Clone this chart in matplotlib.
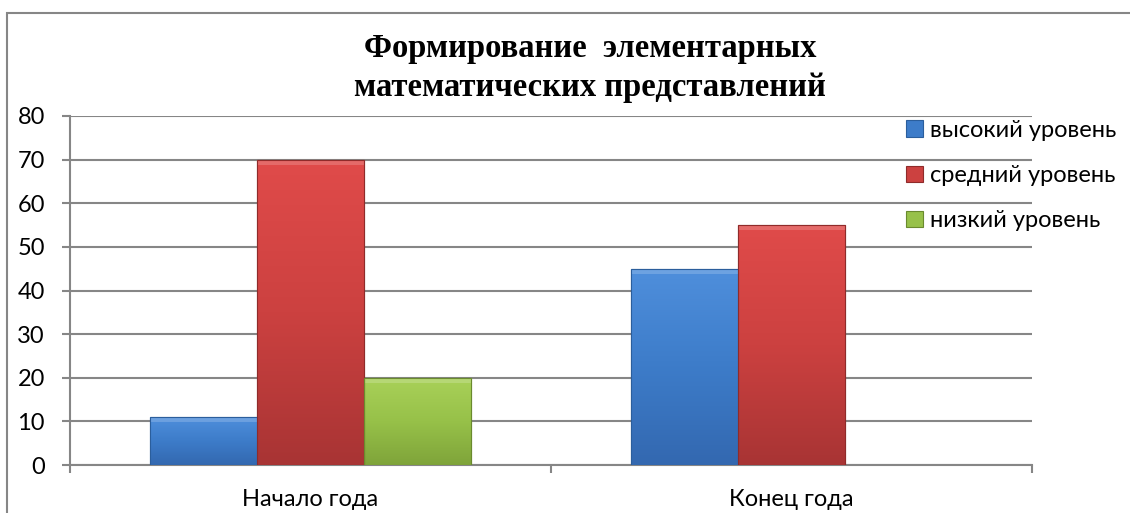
import numpy as np
import matplotlib.pyplot as plt
from matplotlib.patches import Rectangle
from matplotlib.colors import LinearSegmentedColormap

# data
categories = ["Начало года", "Конец года"]
series = ["высокий уровень", "средний уровень", "низкий уровень"]
high = [11, 45]
medium = [70, 55]
low = [20, np.nan]
yticks = [0, 10, 20, 30, 40, 50, 60, 70, 80]

colors = ["#3d7cc9", "#cc4140", "#97c149"]
light = ["#4f8fdc", "#e04b4a", "#a9d159"]
dark = ["#3368b0", "#a83434", "#7fa43a"]
edges = ["#2b5e9c", "#8f2b2a", "#6a8a2e"]

plt.rcParams['font.family'] = ['Lato', 'DejaVu Sans']

fig = plt.figure(figsize=(11.3, 5.13), dpi=100)
ax = fig.add_axes([70/1130, 48/513, 962/1130, 349/513])

x = np.arange(len(categories))
w = 0.2225
grad = np.linspace(0, 1, 256).reshape(-1, 1)
for i, (vals, name) in enumerate(zip([high, medium, low], series)):
    bars = ax.bar(x + (i - 1) * w, vals, width=w, color=colors[i],
                  edgecolor=edges[i], linewidth=0.8, label=name, zorder=3)
    cmap = LinearSegmentedColormap.from_list("g%d" % i, [light[i], colors[i], dark[i]])
    for b in bars:
        h = b.get_height()
        if not np.isfinite(h) or h == 0:
            continue
        x0 = b.get_x()
        im = ax.imshow(grad, cmap=cmap, aspect='auto', zorder=3.5,
                       extent=(x0, x0 + b.get_width(), 0, h), origin='upper')
        im.set_clip_path(b)
        # light bevel strip along the top
        ax.add_patch(Rectangle((x0, h - 1.2), b.get_width(), 1.2,
                               facecolor='white', alpha=0.18, edgecolor='none', zorder=4))
        ax.add_patch(Rectangle((x0, 0), b.get_width(), h, facecolor='none',
                               edgecolor=edges[i], linewidth=0.8, zorder=4.5))

ax.set_xlim(-0.5, 1.5)
ax.set_ylim(0, 80)
ax.set_yticks(yticks)
ax.set_yticklabels([str(v) for v in yticks], fontsize=17)
ax.set_xticks(x)
ax.set_xticklabels(categories, fontsize=17)
ax.tick_params(axis='x', length=0, pad=17)
ax.set_xticks([-0.5, 0.5, 1.5], minor=True)
ax.tick_params(axis='x', which='minor', length=6, width=1.5, color='#868686')
ax.tick_params(axis='y', length=6, width=1.5, color='#868686', pad=12)

ax.grid(axis='y', color='#868686', linewidth=1.5, zorder=0)
ax.set_axisbelow(True)
for s in ['top', 'right']:
    ax.spines[s].set_visible(False)
for s in ['left', 'bottom']:
    ax.spines[s].set_color('#868686')
    ax.spines[s].set_linewidth(1.5)

fig.text(590/1130, 1 - 68/513, "Формирование  элементарных\nматематических представлений",
         ha='center', va='center', fontsize=23.5, fontweight='bold',
         family='Liberation Serif', linespacing=1.32)

ax.legend(loc='upper left', bbox_to_anchor=(906/1130, 1 - 120/513),
          bbox_transform=fig.transFigure, frameon=False, fontsize=17,
          handlelength=0.7, handleheight=0.7, handletextpad=0.3,
          labelspacing=1.02, borderaxespad=0, borderpad=0)

# outer chart border (cut off at right and bottom in the reference)
fig.patches.append(Rectangle((7/1130, -0.1), 1.2, 1 - 13/513 + 0.1,
                             transform=fig.transFigure, fill=False,
                             edgecolor='#868686', linewidth=1.5))

fig.savefig("out.png", dpi=100)
